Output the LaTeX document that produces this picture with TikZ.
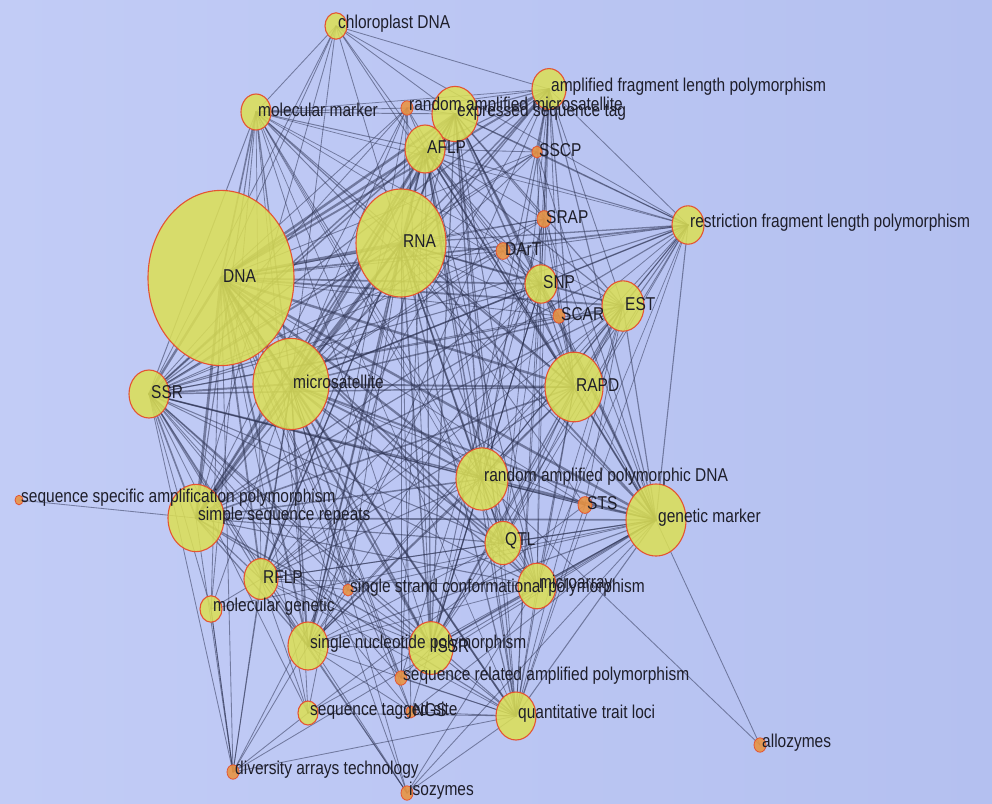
\documentclass[tikz,border=0pt]{standalone}
\usepackage{fontspec}
\setmainfont{Liberation Sans}
\usepackage{graphicx}
\usetikzlibrary{shapes.geometric}
\definecolor{bgl}{RGB}{194,204,246}
\definecolor{bgr}{RGB}{180,192,240}
\definecolor{edgec}{RGB}{44,50,82}
\definecolor{bubfill}{RGB}{220,224,84}
\definecolor{dotfill}{RGB}{232,148,68}
\definecolor{bubline}{RGB}{228,84,50}
\definecolor{txt}{RGB}{30,30,42}
\def\nodelist{cp/336/26/11/nb/chloroplast DNA,
mm/256/112/15/nb/molecular marker,
ram/407/108/6/ns/random amplified microsatellite,
est2/455/114/23/nb/expressed sequence tag,
afl/549/89/17/nb/amplified fragment length polymorphism,
aflp/425/149/20/nb/AFLP,
sscp/537/152/5/ns/SSCP,
dna/221/278/73/nb/DNA,
rna/401/243/45/nb/RNA,
srap/544/219/7/ns/SRAP,
dart/503/251/7/ns/DArT,
rfl/688/225/16/nb/restriction fragment length polymorphism,
snp/541/284/16/nb/SNP,
scar/559/316/6/ns/SCAR,
est/623/306/21/nb/EST,
ssr/149/394/20/nb/SSR,
ms/291/384/38/nb/microsatellite,
rapd/574/387/29/nb/RAPD,
rapdl/482/479/26/nb/random amplified polymorphic DNA,
sts/585/505/7/ns/STS,
gm/656/520/30/nb/genetic marker,
ssap/19/500/4/ns/sequence specific amplification polymorphism,
ssrl/196/518/28/nb/simple sequence repeats,
qtl/503/543/18/nb/QTL,
rflp/261/579/17/nb/RFLP,
sscpl/348/590/5/ns/single strand conformational polymorphism,
ma/537/586/19/nb/microarray,
mg/211/609/11/nb/molecular genetic,
snpl/308/646/20/nb/single nucleotide polymorphism,
issr/431/648/22/nb/ISSR,
srapl/401/678/6/ns/sequence related amplified polymorphism,
stsl/308/713/10/nb/sequence tagged site,
ngs/411/712/5/ns/NGS,
qtll/516/716/20/nb/quantitative trait loci,
allo/760/745/6/ns/allozymes,
dat/233/772/6/ns/diversity arrays technology,
iso/407/793/6/ns/isozymes}
\def\core{dna/3,rna/2.2,ms/2.4,ssr/1.8,ssrl/2,aflp/1.8,est2/1.8,afl/1.4,rapd/1.8,rapdl/1.7,gm/1.8,est/1.4,snp/1.3,qtl/1.3,rflp/1.3,snpl/1.4,issr/1.5,ma/1.2,qtll/1.3,mm/1.2,rfl/1.3}
\def\periph{cp/{dna,ms,ssr,ssrl,rna,aflp,est2,afl,rfl,rapd,mm},
ram/{dna,rna,ms,ssr,aflp,est2,mm,afl,rapd,ssrl,issr,snpl},
sscp/{dna,rna,afl,est2,aflp,rfl,snp,rapd,gm,ssr,ms},
srap/{dna,rna,aflp,est2,afl,snp,rapd,gm,ssr,ms,issr,srapl},
dart/{dna,rna,ms,aflp,ssr,snp,gm,dat,rfl},
scar/{dna,rna,rapd,ssr,aflp,est2,gm,snp,afl},
sts/{dna,rna,ms,gm,rapdl,qtll,stsl,ssr,est},
ssap/{ssrl},
sscpl/{dna,rna,ms,ssr,snpl,issr,gm,rflp},
mg/{dna,ssr,ms,mm,rflp,gm,dat},
srapl/{dna,rna,ms,ssr,issr,gm,aflp,qtll},
stsl/{dna,ms,ssr,rflp,qtll,dat,gm,rna},
ngs/{dna,rna,snp,snpl,gm,qtll,ssr,ms},
allo/{gm,rapdl},
dat/{dna,ssr,ssrl,ms,mg,rflp,snpl,qtll,gm},
iso/{dna,ms,rflp,snpl,qtll,ssr,gm,ma}}
\begin{document}
\begin{tikzpicture}[x=1pt,y=-1pt,
  edge/.style={draw=edgec,draw opacity=0.52,line cap=round},
  nb/.style={ellipse,draw=bubline,line width=1.1pt,fill=bubfill,fill opacity=0.85,inner sep=0pt},
  ns/.style={ellipse,draw=bubline,line width=0.8pt,fill=dotfill,fill opacity=0.9,inner sep=0pt},
  lbl/.style={anchor=west,inner sep=0pt,text=txt,font=\fontsize{15.5}{15.5}\selectfont}]
\shade[left color=bgl,right color=bgr] (0,0) rectangle (992,803);
\useasboundingbox (0,0) rectangle (992,803);
% centres
\foreach \n/\x/\y/\r/\k/\t in \nodelist {\coordinate (\n) at (\x,\y);}
% core connectors
\foreach \a/\wa [count=\i] in \core {
  \foreach \b/\wb [count=\j] in \core {
    \ifnum\j>\i
      \pgfmathsetmacro\lw{0.45*\wa*\wb}
      \draw[edge,line width=\lw pt] (\a) -- (\b);
    \fi
  }
}
% peripheral connectors
\foreach \a/\lst in \periph {
  \foreach \b in \lst {\draw[edge,line width=0.85pt] (\a) -- (\b);}
}
% bubbles
\foreach \n/\x/\y/\r/\k/\t in \nodelist {
  \pgfmathsetmacro\mw{2*\r}
  \pgfmathsetmacro\mh{2.4*\r}
  \node[\k,minimum width=\mw pt,minimum height=\mh pt] (\n-b) at (\n) {};
}
% labels
\foreach \n/\x/\y/\r/\k/\t in \nodelist {
  \node[lbl] (\n-l) at ([xshift=2pt,yshift=2pt]\n) {\scalebox{1}[1.2]{\t}};
}
\end{tikzpicture}
\end{document}
